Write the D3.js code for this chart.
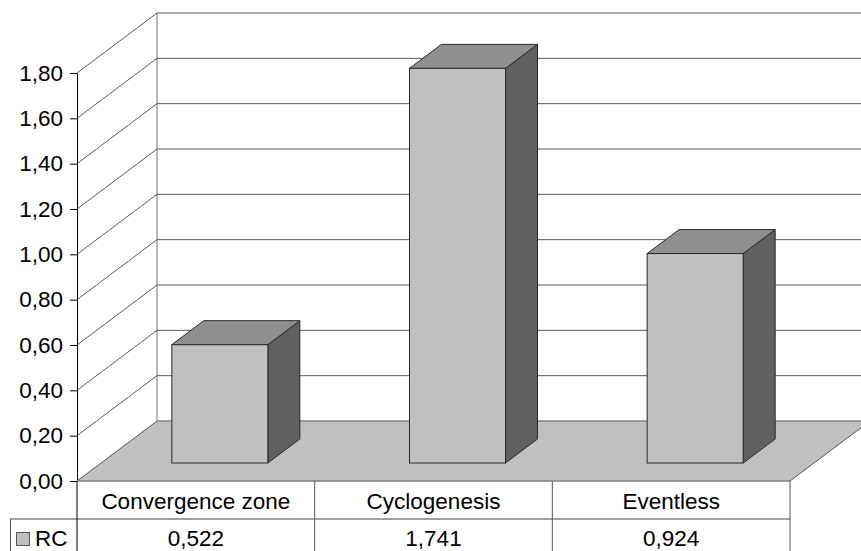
<!DOCTYPE html>
<html>
<head>
<meta charset="utf-8">
<script src="https://cdn.jsdelivr.net/npm/d3@7"></script>
<style>
  html, body { margin: 0; padding: 0; background: #fff; overflow: hidden; }
  svg { display: block; font-family: "Liberation Sans", Arial, sans-serif; }
</style>
</head>
<body>
<svg id="chart" width="861" height="551"></svg>
<script>
// ---- data ----
const categories = ["Convergence zone", "Cyclogenesis", "Eventless"];
const seriesName = "RC";
const values = [0.522, 1.741, 0.924];
const tickValues = [0, 0.2, 0.4, 0.6, 0.8, 1.0, 1.2, 1.4, 1.6, 1.8];
const tickLabels = ["0,00", "0,20", "0,40", "0,60", "0,80", "1,00", "1,20", "1,40", "1,60", "1,80"];
const valueLabels = ["0,522", "1,741", "0,924"];

(function () {
// ---- layout ----
const W = 861, H = 551;
const plotLeft = 77, plotRight = 790, plotBottom = 481, plotTop = 73;
const DX = 80, DY = -60;        // depth offset of the back wall
const d0 = 0.3, d1 = 0.7;       // bar depth range (fraction)
const barRatio = 0.404;
const fontSize = 22.5;

const svg = d3.select("#chart");
svg.append("rect").attr("width", W).attr("height", H).attr("fill", "#fff");

const y = d3.scaleLinear().domain([0, 1.8]).range([plotBottom, plotTop]);
const x = d3.scaleBand().domain(categories).range([plotLeft, plotRight]).paddingInner(0).paddingOuter(0);

const gridColor = "#5a5a5a";

// back wall gridlines
const back = svg.append("g");
back.selectAll("line.grid").data(tickValues.slice(1)).join("line")
  .attr("x1", plotLeft + DX).attr("x2", plotRight + DX + 20)
  .attr("y1", d => y(d) + DY).attr("y2", d => y(d) + DY)
  .attr("stroke", gridColor).attr("stroke-width", 1);
back.append("line")
  .attr("x1", plotLeft + DX).attr("x2", plotLeft + DX)
  .attr("y1", y(1.8) + DY).attr("y2", y(0) + DY)
  .attr("stroke", "#707070").attr("stroke-width", 1);

// left wall diagonals
back.selectAll("line.diag").data(tickValues.slice(1)).join("line")
  .attr("x1", plotLeft).attr("y1", d => y(d))
  .attr("x2", plotLeft + DX).attr("y2", d => y(d) + DY)
  .attr("stroke", "#333").attr("stroke-width", 0.8);

// floor
const floorPts = [[plotLeft, y(0)], [plotLeft + DX, y(0) + DY], [plotRight + DX, y(0) + DY], [plotRight, y(0)]];
svg.append("path")
  .attr("d", d3.line()(floorPts) + "Z")
  .attr("fill", "#c0c0c0").attr("stroke", "none");
svg.append("line").attr("x1", plotLeft + DX).attr("x2", plotRight + DX + 20)
  .attr("y1", y(0) + DY).attr("y2", y(0) + DY)
  .attr("stroke", "#808080").attr("stroke-width", 1.5);
svg.append("line").attr("x1", plotLeft).attr("y1", y(0))
  .attr("x2", plotLeft + DX).attr("y2", y(0) + DY)
  .attr("stroke", "#333").attr("stroke-width", 0.8);
svg.append("line").attr("x1", plotRight).attr("y1", y(0))
  .attr("x2", plotRight + DX).attr("y2", y(0) + DY)
  .attr("stroke", "#555").attr("stroke-width", 1);

// bars
const bw = x.bandwidth() * barRatio;
const ox = DX * d0, oy = DY * d0;
const ddx = DX * (d1 - d0), ddy = DY * (d1 - d0);
const bars = svg.append("g").selectAll("g").data(values).join("g");
bars.each(function(v, i) {
  const g = d3.select(this);
  const fx = x(categories[i]) + (x.bandwidth() - bw) / 2 + ox;
  const fy = y(v) + oy;
  const by = y(0) + oy;
  const line = d3.line();
  g.append("path")
    .attr("d", line([[fx + bw, fy], [fx + bw + ddx, fy + ddy], [fx + bw + ddx, by + ddy], [fx + bw, by]]) + "Z")
    .attr("fill", "#606060").attr("stroke", "#2a2a2a").attr("stroke-width", 1).attr("stroke-linejoin", "round");
  g.append("path")
    .attr("d", line([[fx, fy], [fx + ddx, fy + ddy], [fx + bw + ddx, fy + ddy], [fx + bw, fy]]) + "Z")
    .attr("fill", "#8f8f8f").attr("stroke", "#2a2a2a").attr("stroke-width", 1).attr("stroke-linejoin", "round");
  g.append("rect")
    .attr("x", fx).attr("y", fy).attr("width", bw).attr("height", by - fy)
    .attr("fill", "#c0c0c0").attr("stroke", "#2a2a2a").attr("stroke-width", 1);
});

// y axis
const axis = d3.axisLeft(y)
  .tickValues(tickValues)
  .tickFormat((d, i) => tickLabels[i])
  .tickSize(7).tickSizeOuter(0).tickPadding(7);
const ag = svg.append("g").attr("transform", `translate(${plotLeft},0)`).call(axis);
ag.select(".domain").attr("stroke", "#000");
ag.selectAll(".tick line").attr("stroke", "#000");
ag.selectAll(".tick text")
  .attr("font-size", fontSize).attr("fill", "#000")
  .attr("font-family", "'Liberation Sans', Arial, sans-serif");

// data table
const rowTop = y(0), rowMid = 519, rowBot = H + 5;
const tbl = svg.append("g");
tbl.append("line").attr("x1", plotLeft).attr("x2", plotRight).attr("y1", rowTop).attr("y2", rowTop)
  .attr("stroke", "#808080").attr("stroke-width", 1.5);
tbl.append("line").attr("x1", 10).attr("x2", plotRight).attr("y1", rowMid).attr("y2", rowMid)
  .attr("stroke", "#808080").attr("stroke-width", 1.5);
tbl.append("line").attr("x1", 10.5).attr("x2", 10.5).attr("y1", rowMid).attr("y2", rowBot)
  .attr("stroke", "#555").attr("stroke-width", 1);
const colEdges = [plotLeft].concat(categories.map(c => x(c) + x.bandwidth()));
tbl.selectAll("line.col").data(colEdges).join("line")
  .attr("x1", d => d).attr("x2", d => d)
  .attr("y1", rowTop).attr("y2", rowBot)
  .attr("stroke", (d, i) => i === 0 ? "#000" : "#555").attr("stroke-width", 1);

tbl.selectAll("text.cat").data(categories).join("text")
  .attr("x", d => x(d) + x.bandwidth() / 2).attr("y", 509)
  .attr("text-anchor", "middle").attr("font-size", fontSize).attr("fill", "#000")
  .text(d => d);
tbl.selectAll("text.val").data(valueLabels).join("text")
  .attr("x", (d, i) => x(categories[i]) + x.bandwidth() / 2).attr("y", 546)
  .attr("text-anchor", "middle").attr("font-size", fontSize).attr("fill", "#000")
  .text(d => d);

// legend key
tbl.append("rect").attr("x", 16.5).attr("y", 532.5).attr("width", 13).attr("height", 13)
  .attr("fill", "#c0c0c0").attr("stroke", "#555").attr("stroke-width", 1);
tbl.append("text").attr("x", 35).attr("y", 546).attr("font-size", fontSize).attr("fill", "#000")
  .text(seriesName);
})();
</script>
</body>
</html>
